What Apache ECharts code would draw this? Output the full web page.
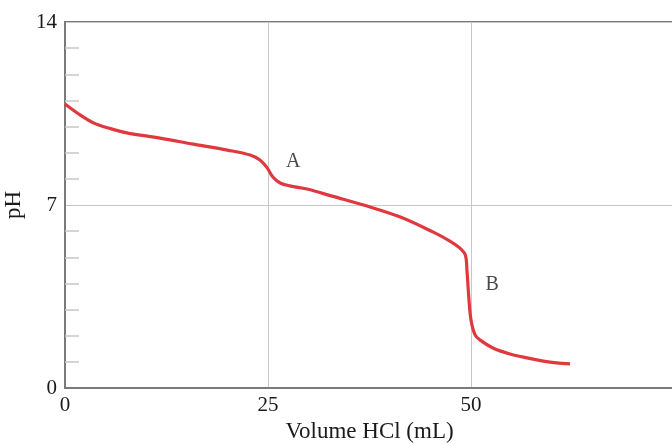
<!DOCTYPE html>
<html><head><meta charset="utf-8">
<script src="https://cdn.jsdelivr.net/npm/echarts@6/dist/echarts.min.js"></script>
<style>html,body{margin:0;padding:0;background:#fff}#c{width:672px;height:444px}</style>
</head><body><div id="c"></div>
<script>
const volume = [0, 1.5, 3.5, 5.5, 7.6, 11.7, 15.8, 20, 22.8, 24, 24.9, 25.6, 26.5, 27.7, 29.8, 33, 37.2, 41.3, 45.3, 47.4, 48.6, 49.3, 49.5, 49.75, 50, 50.5, 51.1, 52.7, 54.8, 56.9, 58.9, 60.5, 62.2];
const pH = [10.86, 10.52, 10.14, 9.93, 9.76, 9.56, 9.33, 9.10, 8.91, 8.72, 8.42, 8.07, 7.84, 7.73, 7.61, 7.33, 6.96, 6.54, 5.97, 5.62, 5.36, 5.09, 4.51, 3.37, 2.60, 2.03, 1.84, 1.53, 1.30, 1.15, 1.03, 0.96, 0.92];
const annotNames = ['A', 'B'];
const annotX = [28.1, 52.6];
const annotY = [8.65, 3.94];
const xTicks = [0, 25, 50, 75];
const yTicks = [0, 7, 14];

const serif = '"Liberation Serif", "DejaVu Serif", serif';
const chart = echarts.init(document.getElementById('c'));
chart.setOption({
  animation: false,
  grid: { left: 65, top: 22, bottom: 56, right: -2, outerBoundsMode: 'none', containLabel: false, show: true, borderColor: '#7a7a7a', borderWidth: 2, backgroundColor: 'transparent' },
  xAxis: {
    type: 'value', min: xTicks[0], max: xTicks[xTicks.length - 1], interval: 25,
    name: 'Volume HCl (mL)', nameLocation: 'middle', nameGap: 31,
    nameTextStyle: { fontFamily: serif, fontSize: 23, color: '#1a1a1a' },
    axisLine: { show: true, lineStyle: { color: '#7a7a7a', width: 2 } },
    axisTick: { show: false },
    axisLabel: { fontFamily: serif, fontSize: 21, color: '#1a1a1a', margin: 7, showMaxLabel: false },
    splitLine: { show: true, lineStyle: { color: '#c8c8c8', width: 1 } }
  },
  yAxis: {
    type: 'value', min: yTicks[0], max: yTicks[yTicks.length - 1], interval: 7,
    name: 'pH', nameLocation: 'middle', nameGap: 33,
    nameTextStyle: { fontFamily: serif, fontSize: 23, color: '#1a1a1a' },
    axisLine: { show: true, lineStyle: { color: '#7a7a7a', width: 2 } },
    axisTick: { show: false, inside: true },
    minorTick: { show: true, splitNumber: 7, length: 14, lineStyle: { color: '#c8c8c8', width: 1.5 } },
    axisLabel: { fontFamily: serif, fontSize: 21, color: '#1a1a1a', margin: 8 },
    splitLine: { show: true, lineStyle: { color: '#c8c8c8', width: 1 } }
  },
  series: [
    {
      type: 'line', data: volume.map((v, i) => [v, pH[i]]), showSymbol: false,
      smooth: 0.35,
      lineStyle: { color: '#e0383f', width: 3.2 }, z: 3
    },
    {
      type: 'scatter', symbolSize: 0,
      data: annotNames.map((n, i) => ({ name: n, value: [annotX[i], annotY[i]] })),
      label: { show: true, position: 'inside', formatter: p => p.name, fontFamily: serif, fontSize: 20, color: '#1a1a1a' }
    }
  ]
});
</script></body></html>
